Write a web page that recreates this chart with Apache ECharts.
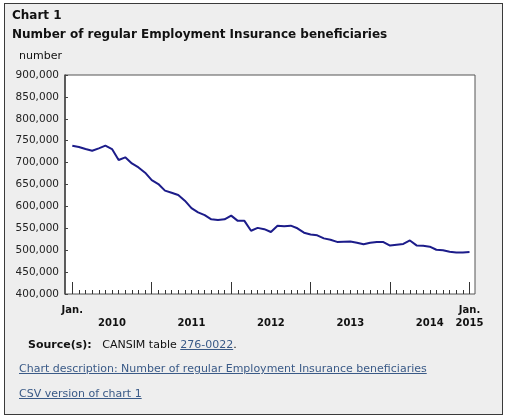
<!DOCTYPE html>
<html>
<head>
<meta charset="utf-8">
<script src="https://cdn.jsdelivr.net/npm/echarts@6/dist/echarts.min.js"></script>
<style>
    html, body {margin: 0; padding: 0; background: #fff;}
    body {width: 510px; height: 420px; position: relative; overflow: hidden;
        font-family: "DejaVu Sans", Verdana, sans-serif; color: #111;}
    #panel {position: absolute; left: 4px; top: 3px; width: 497px; height: 410px;
        background: #eeeeee; border: 1px solid #3a3a3a;}
    #chart {position: absolute; left: 0; top: 0; width: 510px; height: 420px;}
    .t {position: absolute; white-space: nowrap;}
    .b {font-weight: bold; font-size: 12px;}
    a {color: #3a5a87; text-decoration: underline;}
</style>
</head>
<body>
<div id="panel"></div>
<div id="chart"></div>
<div class="t b" style="left:12px; top:8px;">Chart 1</div>
<div class="t b" style="left:12px; top:27px;">Number of regular Employment Insurance beneficiaries</div>
<div class="t" style="left:19px; top:49px; font-size:11px;">number</div>
<div class="t" style="left:28px; top:338px; font-size:11px;"><b>Source(s):</b>&nbsp;&nbsp; CANSIM table <a href="#">276-0022</a>.</div>
<div class="t" style="left:19px; top:362px; font-size:11px;"><a href="#">Chart description: Number of regular Employment Insurance beneficiaries</a></div>
<div class="t" style="left:19px; top:387px; font-size:11px;"><a href="#">CSV version of chart 1</a></div>
<script>
var years = [2010, 2011, 2012, 2013, 2014, 2015];
var monthNames = ['Jan.', 'Feb.', 'Mar.', 'Apr.', 'May', 'June', 'July', 'Aug.', 'Sept.', 'Oct.', 'Nov.', 'Dec.'];

// Jan. 2010 to Jan. 2015, one value per month
var beneficiaries = [
    738600, 735600, 731000, 727000, 732600, 738600, 731000, 706000, 712000, 698000, 689000, 677000,
    660000, 651000, 636000, 631000, 626000, 613000, 596000, 586500, 580000, 570500, 569000, 570500,
    579000, 567000, 567000, 544500, 551000, 548000, 541500, 556000, 554500, 556000, 550000, 540000,
    536000, 534000, 527000, 524000, 519000, 519500, 520000, 517000, 513500, 517000, 518700, 518700,
    510500, 512600, 514400, 522200, 511000, 510000, 508000, 501000, 500000, 496600, 495000, 495000,
    496000
];

var yMin = 400000, yMax = 900000, yStep = 50000;

var months = [];
years.forEach(function (y) {
    monthNames.forEach(function (m) {
        if (months.length < beneficiaries.length) months.push(m + ' ' + y);
    });
});

function xLabel(value, index) {
    if (index === 0) return 'Jan.';
    if (index === months.length - 1) return 'Jan.\n' + years[years.length - 1];
    if (index % 12 === 6) return '\n' + years[Math.floor(index / 12)];
    return '';
}

var chart = echarts.init(document.getElementById('chart'));

chart.setOption({
    animation: false,
    textStyle: {fontFamily: 'DejaVu Sans'},
    graphic: [{
        type: 'rect', z: 0,
        shape: {x: 65, y: 75, width: 410, height: 219},
        style: {fill: '#fff', stroke: '#555', lineWidth: 1}
    }],
    grid: {left: 72.3, right: 40.5, top: 75, bottom: 126},
    xAxis: [{
        type: 'category',
        data: months,
        boundaryGap: false,
        axisLine: {show: false},
        axisTick: {show: true, inside: true, length: 4, interval: 0, lineStyle: {color: '#333'}},
        axisLabel: {
            interval: 0, formatter: xLabel, margin: 10,
            fontSize: 10, fontWeight: 'bold', color: '#111', lineHeight: 13
        },
        splitLine: {show: false}
    }, {
        type: 'category',
        data: months,
        boundaryGap: false,
        position: 'bottom',
        axisLine: {show: false},
        axisTick: {
            show: true, inside: true, length: 12,
            interval: function (i) { return i % 12 === 0; },
            lineStyle: {color: '#333'}
        },
        axisLabel: {show: false}
    }],
    yAxis: {
        type: 'value',
        min: yMin, max: yMax, interval: yStep,
        offset: 7.3,
        axisLine: {show: true, lineStyle: {color: '#444', width: 1.5}},
        axisTick: {show: true, inside: true, length: 3, lineStyle: {color: '#444'}},
        axisLabel: {
            fontSize: 10.5, color: '#222', margin: 6,
            formatter: function (v) { return v.toLocaleString('en-US'); }
        },
        splitLine: {show: false}
    },
    series: [{
        type: 'line',
        data: beneficiaries,
        showSymbol: false,
        lineStyle: {color: '#1c1c8a', width: 2},
        z: 3
    }]
});
</script>
</body>
</html>
